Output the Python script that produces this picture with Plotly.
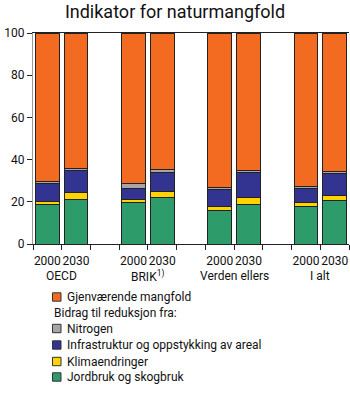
import plotly.graph_objects as go

groups = ["OECD", "BRIK<sup>1)</sup>", "Verden ellers", "I alt"]
years = ["2000", "2030"]
positions = [0, 1, 3, 4, 6, 7, 9, 10]

jordbruk = [18.7, 21.1, 19.5, 22.2, 15.7, 18.7, 17.6, 20.5]
klima = [1.6, 3.4, 1.4, 2.8, 1.9, 3.5, 1.9, 2.6]
infra = [8.5, 10.5, 5.3, 8.9, 8.2, 11.7, 6.8, 10.3]
nitrogen = [0.8, 0.8, 2.6, 1.3, 0.8, 0.9, 1.1, 1.1]
gjenv = [100 - (a + b + c + d) for a, b, c, d in zip(jordbruk, klima, infra, nitrogen)]

series = [
    ("Jordbruk og skogbruk", jordbruk, "#2E9B6B"),
    ("Klimaendringer", klima, "#FFD200"),
    ("Infrastruktur og oppstykking av areal", infra, "#333391"),
    ("Nitrogen", nitrogen, "#A6A6A6"),
    ("Gjenværende mangfold", gjenv, "#F26B21"),
]
legend_title = "Bidrag til reduksjon fra:"

fig = go.Figure()
for name, vals, col in series:
    fig.add_trace(go.Bar(
        x=positions, y=vals, name=name,
        marker=dict(color=col, line=dict(color="#222222", width=1)),
        width=0.82, showlegend=False,
    ))

font = "Roboto, Liberation Sans, sans-serif"
PLOT_TOP, PLOT_BOT, PLOT_L, PLOT_W = 33, 244, 33, 316
def py(p):
    return (PLOT_BOT - p) / (PLOT_BOT - PLOT_TOP)
def px(p):
    return (p - PLOT_L) / PLOT_W

fig.update_layout(
    barmode="stack",
    width=350, height=410,
    margin=dict(l=33, r=1, t=33, b=166),
    paper_bgcolor="white", plot_bgcolor="white",
    font=dict(family=font, size=12, color="#111"),
    title=dict(text="Indikator for naturmangfold", x=0.5, xanchor="center",
               y=1 - 12 / 410, yanchor="middle", font=dict(size=18, family=font)),
    showlegend=False,
    xaxis=dict(
        range=[-0.5, 10.5], tickvals=positions, ticktext=years * 4,
        ticks="", showline=True, linecolor="#222", mirror=True,
        tickfont=dict(size=12), tickangle=0, ticklabelstandoff=6,
        minor=dict(tick0=-0.5, dtick=1, ticks="outside", ticklen=5, tickcolor="#222"),
    ),
    yaxis=dict(
        range=[0, 100], tickvals=[0, 20, 40, 60, 80, 100], ticks="outside",
        ticklen=5, tickcolor="#222", showline=True, linecolor="#999",
        showgrid=False, zeroline=False, tickfont=dict(size=12),
    ),
)

for i, g in enumerate(groups):
    fig.add_annotation(x=(positions[2 * i] + positions[2 * i + 1]) / 2, y=py(276),
                       xref="x", yref="paper", text=g, showarrow=False,
                       font=dict(size=12), yanchor="middle")

# manual legend
rows = [("Gjenværende mangfold", "#F26B21", 297),
        (legend_title, None, 313),
        ("Nitrogen", "#A6A6A6", 328.5),
        ("Infrastruktur og oppstykking av areal", "#333391", 345),
        ("Klimaendringer", "#FFD200", 361.5),
        ("Jordbruk og skogbruk", "#2E9B6B", 377)]
for text, col, yc in rows:
    if col:
        fig.add_shape(type="rect", xref="paper", yref="paper",
                      x0=px(52.5), x1=px(61), y0=py(yc + 4.2), y1=py(yc - 4.2),
                      fillcolor=col, line=dict(color="#333", width=1))
        fig.add_annotation(x=px(65), y=py(yc), xref="paper", yref="paper", text=text,
                           showarrow=False, xanchor="left", yanchor="middle",
                           font=dict(size=12))
    else:
        fig.add_annotation(x=px(52), y=py(yc), xref="paper", yref="paper", text=text,
                           showarrow=False, xanchor="left", yanchor="middle",
                           font=dict(size=12))

fig.write_html("out.html")
